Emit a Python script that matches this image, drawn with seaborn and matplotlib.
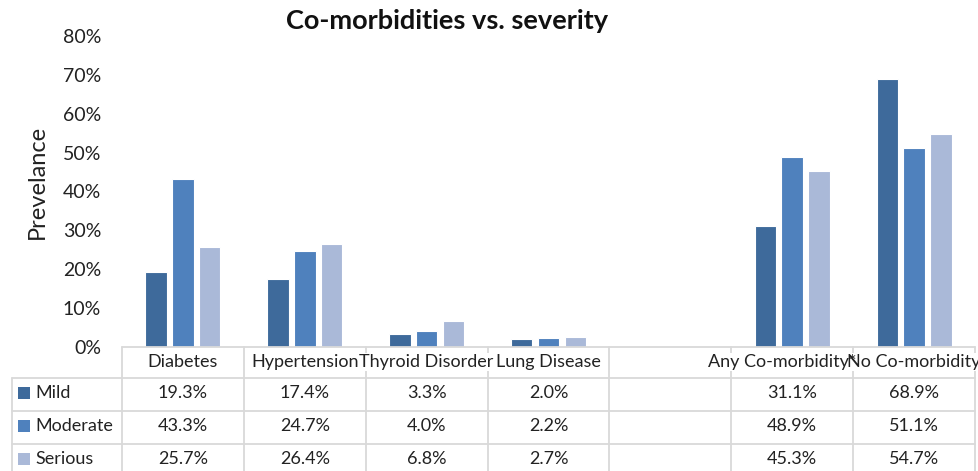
import matplotlib
matplotlib.use("Agg")
import matplotlib.pyplot as plt
from matplotlib.lines import Line2D
from matplotlib.patches import Rectangle
import seaborn as sns
import pandas as pd

# ---- data ----
categories = ["Diabetes", "Hypertension", "Thyroid Disorder", "Lung Disease", " ",
              "Any Co-morbidity*", "No Co-morbidity"]
severities = ["Mild", "Moderate", "Serious"]
mild = [19.3, 17.4, 3.3, 2.0, None, 31.1, 68.9]
moderate = [43.3, 24.7, 4.0, 2.2, None, 48.9, 51.1]
serious = [25.7, 26.4, 6.8, 2.7, None, 45.3, 54.7]
yticks = [0, 10, 20, 30, 40, 50, 60, 70, 80]
colors = ["#3e6a9b", "#4f81bd", "#aab9d8"]

series = {"Mild": mild, "Moderate": moderate, "Serious": serious}
rows = []
for sev in severities:
    for cat, v in zip(categories, series[sev]):
        if v is not None:
            rows.append({"cat": cat, "sev": sev, "val": v})
df = pd.DataFrame(rows)

sns.set_theme(style="white")
plt.rcParams["font.family"] = ["Lato", "DejaVu Sans"]

W, H = 979, 471
fig = plt.figure(figsize=(W / 100, H / 100), dpi=100)
ax = fig.add_axes([122 / W, 1 - 347 / H, (975 - 122) / W, (347 - 36) / H])

sns.barplot(data=df, x="cat", y="val", hue="sev", order=categories,
            hue_order=severities, palette=colors, saturation=1, width=0.66, gap=0.2,
            edgecolor="white", linewidth=0.8, ax=ax, legend=False)

ax.set_xlim(-0.5, len(categories) - 0.5)
ax.set_ylim(0, 80)
ax.set_yticks(yticks)
ax.set_yticklabels([f"{t}%" for t in yticks], fontsize=14, color="#222222")
ax.tick_params(axis="y", length=0, pad=15)
ax.set_xticks([])
ax.set_xlabel("")
ax.set_ylabel("Prevelance", fontsize=17, color="#222222")
ax.yaxis.set_label_coords(-(122 - 48) / (975 - 122), (347 - 182) / (347 - 36))
for s in ax.spines.values():
    s.set_visible(False)

fig.text(447 / W, 1 - 21 / H, "Co-morbidities vs. severity", ha="center",
         va="center", fontsize=19.5, fontweight="bold", color="#111111")

# ---- data table ----
def fx(d):
    return fig.transFigure.inverted().transform(ax.transData.transform((d, 0)))[0]

def fy(py):
    return 1 - py / H

line_col = "#d9d9d9"
left_px = 12 / W
right = fx(len(categories) - 0.5)
hy = [347, 377.5, 411, 444, 477]
for i, y in enumerate(hy):
    x0 = fx(-0.5) if i == 0 else left_px
    fig.add_artist(Line2D([x0, right], [fy(y), fy(y)], color=line_col, lw=1.3, zorder=1))
for k in range(len(categories) + 1):
    xb = fx(k - 0.5)
    fig.add_artist(Line2D([xb, xb], [fy(347), fy(477)], color=line_col, lw=1.3, zorder=1))
fig.add_artist(Line2D([left_px, left_px], [fy(377.5), fy(477)], color=line_col, lw=1.3, zorder=1))

# header: white backing boxes first, then the labels on top
for layer in (0, 1):
    for i, cat in enumerate(categories):
        off = -0.08 if cat.startswith("Any") else 0.0
        kw = dict(ha="center", va="center", fontsize=13)
        if layer == 0:
            fig.text(fx(i + off), fy(362), cat, color="white", zorder=2,
                     bbox=dict(facecolor="white", edgecolor="none", pad=0.5), **kw)
        else:
            fig.text(fx(i + off), fy(362), cat, color="#222222", zorder=3, **kw)

# rows
row_y = [393, 426, 459]
for sev, col, y in zip(severities, colors, row_y):
    fig.add_artist(Rectangle((18 / W, fy(y) - 6 / H), 12 / W, 12 / H,
                             facecolor=col, edgecolor="none", zorder=3))
    fig.text(35 / W, fy(y), sev, ha="left", va="center", fontsize=13, color="#222222")
    for i, v in enumerate(series[sev]):
        if v is not None:
            fig.text(fx(i), fy(y), f"{v:.1f}%", ha="center", va="center",
                     fontsize=13, color="#222222")

fig.savefig("out.png", dpi=100)
